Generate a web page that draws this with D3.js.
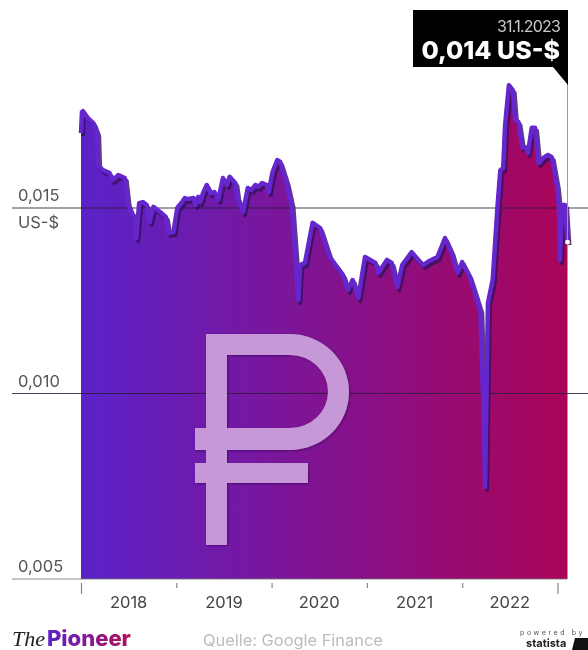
<!DOCTYPE html>
<html>
<head>
<meta charset="utf-8">
<script src="https://d3js.org/d3.v7.min.js"></script>
<style>
  body { margin: 0; background: #fff; }
  svg { display: block; filter: blur(0.5px); }
  text { font-family: Inter, "Open Sans", sans-serif; }
</style>
</head>
<body>
<div id="chart"></div>
<script>
// Kurs, x as decimal years
const years = [2018.00, 2018.01, 2018.02, 2018.07, 2018.13, 2018.17, 2018.18, 2018.23, 2018.30, 2018.33, 2018.36,
  2018.39, 2018.46, 2018.49, 2018.54, 2018.57, 2018.58, 2018.61, 2018.65, 2018.69, 2018.72,
  2018.76, 2018.83, 2018.89, 2018.92, 2018.97, 2019.01, 2019.06, 2019.09, 2019.12, 2019.18,
  2019.20, 2019.23, 2019.25, 2019.28, 2019.32, 2019.36, 2019.40, 2019.44, 2019.49, 2019.53,
  2019.56, 2019.62, 2019.64, 2019.70, 2019.75, 2019.79, 2019.83, 2019.86, 2019.90, 2019.95,
  2019.97, 2020.01, 2020.06, 2020.09, 2020.16, 2020.21, 2020.25, 2020.28, 2020.30, 2020.35,
  2020.43, 2020.51, 2020.61, 2020.75, 2020.80, 2020.85, 2020.91, 2020.98, 2021.05, 2021.09,
  2021.12, 2021.21, 2021.26, 2021.32, 2021.37, 2021.47, 2021.54, 2021.59, 2021.66, 2021.74,
  2021.82, 2021.89, 2021.95, 2022.00, 2022.08, 2022.13, 2022.19, 2022.22, 2022.24, 2022.27,
  2022.32, 2022.37, 2022.40, 2022.43, 2022.45, 2022.49, 2022.53, 2022.555, 2022.59, 2022.63,
  2022.66, 2022.69, 2022.73, 2022.765, 2022.80, 2022.85, 2022.90, 2022.94, 2022.995, 2023.015,
  2023.025, 2023.05, 2023.08, 2023.105];
const rates = [.01702, .01759, .01761, .01743, .01729, .01702, .01616, .01602, .01594, .01576, .01581,
  .01589, .01581, .01513, .01481, .01476, .01419, .01513, .01516, .01508, .01462,
  .01503, .01489, .01476, .01433, .01435, .01500, .01516, .01527, .01524, .01527,
  .01508, .01530, .01516, .01540, .01562, .01540, .01543, .01522, .01581, .01562,
  .01584, .01567, .01530, .01489, .01554, .01549, .01562, .01557, .01567, .01562,
  .01543, .01597, .01629, .01624, .01567, .01508, .01368, .01252, .01346, .01352,
  .01460, .01446, .01368, .01319, .01279, .01306, .01257, .01368, .01358, .01352,
  .01325, .01360, .01352, .01287, .01346, .01381, .01360, .01346, .01358, .01368,
  .01419, .01379, .01325, .01354, .01314, .01274, .01225, .00983, .00748, .01244,
  .01306, .01503, .01602, .01608, .01724, .01831, .01818, .01737, .01732, .01664,
  .01664, .01648, .01716, .01716, .01621, .01635, .01643, .01637, .01557, .01503,
  .01360, .01508, .01508, .01408];
const yTicks = [0.005, 0.010, 0.015];
const yearTicks = [2018, 2019, 2020, 2021, 2022, 2023];
const yearLabels = [2018, 2019, 2020, 2021, 2022];

const width = 588, height = 650;
const data = years.map((d, i) => ({ year: d, rate: rates[i] }));

const svg = d3.select("#chart").append("svg")
  .attr("width", width)
  .attr("height", height);

const xScale = d3.scaleLinear().domain([2018, 2023]).range([81, 557.5]);
const yScale = d3.scaleLinear().domain([0.005, 0.015]).range([579, 208]);
const fmt = (v) => v.toFixed(3).replace(".", ",");

const defs = svg.append("defs");
const grad = defs.append("linearGradient").attr("id", "areaGrad");
grad.append("stop").attr("offset", "0%").attr("stop-color", "#5a22c8");
grad.append("stop").attr("offset", "100%").attr("stop-color", "#aa0458");

const shadow = defs.append("filter").attr("id", "shadow")
  .attr("x", "-10%").attr("y", "-10%").attr("width", "120%").attr("height", "120%");
shadow.append("feDropShadow").attr("dx", 1).attr("dy", 1).attr("stdDeviation", 1.2)
  .attr("flood-color", "#300050").attr("flood-opacity", 0.6);

// area
const area = d3.area()
  .x((d) => xScale(d.year))
  .y0(yScale(0.005))
  .y1((d) => yScale(d.rate));

svg.append("path")
  .datum(data)
  .attr("d", area)
  .style("fill", "url(#areaGrad)");

// grid lines
svg.selectAll(".grid")
  .data(yTicks)
  .enter().append("line")
  .attr("class", "grid")
  .attr("x1", 12)
  .attr("x2", (d) => (d === 0.005 ? 567 : width))
  .attr("y1", (d) => yScale(d))
  .attr("y2", (d) => yScale(d))
  .style("stroke", (d) => (d === 0.005 ? "#777" : "#2e1a3a"))
  .style("stroke-opacity", 0.85)
  .style("stroke-width", 1);

// y labels
svg.selectAll(".ylabel")
  .data(yTicks)
  .enter().append("text")
  .attr("class", "ylabel")
  .attr("x", 18)
  .attr("y", (d) => yScale(d) - 7)
  .style("font-size", "16.5px")
  .style("fill", "#555")
  .text(fmt);

svg.append("text")
  .attr("x", 18)
  .attr("y", yScale(0.015) + 20)
  .style("font-size", "16.5px")
  .style("fill", "#555")
  .text("US-$");

// line with dark shadow
const line = d3.line()
  .x((d) => xScale(d.year))
  .y((d) => yScale(d.rate));

svg.append("path")
  .datum(data)
  .attr("d", line)
  .attr("transform", "translate(2,3)")
  .style("fill", "none")
  .style("stroke", "#35105a")
  .style("stroke-opacity", 0.8)
  .style("stroke-width", 4)
  .style("stroke-linejoin", "round");

svg.append("path")
  .datum(data)
  .attr("d", line)
  .style("fill", "none")
  .style("stroke", "#6527cd")
  .style("stroke-width", 4.5)
  .style("stroke-linejoin", "round");

// ruble sign
svg.append("path")
  .attr("d", "M206,334 H290 A59,58 0 0 1 290,450 H227 V463 H308 V483 H227 V545 H206 V483 H195 V463 H206 V450 H195 V428 H206 Z "
    + "M227,355 V428 H290 A38,36.5 0 0 0 290,355 Z")
  .attr("fill-rule", "evenodd")
  .attr("filter", "url(#shadow)")
  .style("fill", "#c698d8");

// x axis, first and last ticks are longer
const xAxis = svg.append("g")
  .attr("transform", "translate(0,583)")
  .call(d3.axisBottom(xScale).tickValues(yearTicks).tickFormat(""));
xAxis.select(".domain").remove();
xAxis.selectAll("line")
  .attr("y2", (d) => (d === 2018 || d === 2023 ? 11 : 5))
  .style("stroke", "#888")
  .style("stroke-width", 1.2);

svg.selectAll(".xlabel")
  .data(yearLabels)
  .enter().append("text")
  .attr("class", "xlabel")
  .attr("x", (d) => xScale(d + 0.5))
  .attr("y", 608)
  .attr("text-anchor", "middle")
  .style("font-size", "16.5px")
  .style("fill", "#444")
  .text((d) => d);

// callout
const last = data[data.length - 1];
svg.append("line")
  .attr("x1", xScale(last.year)).attr("x2", xScale(last.year))
  .attr("y1", 80).attr("y2", yScale(last.rate))
  .style("stroke", "#999")
  .style("stroke-width", 1);

svg.append("path")
  .attr("d", "M413,10 H568 V85 L553,67 H413 Z")
  .style("fill", "#000");

svg.append("circle")
  .attr("cx", xScale(last.year))
  .attr("cy", yScale(last.rate))
  .attr("r", 2.4)
  .style("fill", "#fff");

svg.append("text")
  .attr("x", 560).attr("y", 32)
  .attr("text-anchor", "end")
  .style("font-size", "16px")
  .style("letter-spacing", "-0.8px")
  .style("fill", "#c8c8c8")
  .text("31.1.2023");

svg.append("text")
  .attr("x", 560).attr("y", 59)
  .attr("text-anchor", "end")
  .style("font-size", "25px")
  .style("font-weight", 800)
  .style("fill", "#fff")
  .text("0,014 US-$");

// footer
const logoGrad = defs.append("linearGradient").attr("id", "logoGrad");
logoGrad.append("stop").attr("offset", "0%").attr("stop-color", "#5a22c8");
logoGrad.append("stop").attr("offset", "100%").attr("stop-color", "#b0105a");

svg.append("text")
  .attr("x", 12).attr("y", 646)
  .style("font-family", "'Liberation Serif', serif")
  .style("font-style", "italic")
  .style("font-size", "22px")
  .style("fill", "#222")
  .text("The");

svg.append("text")
  .attr("x", 47).attr("y", 646)
  .style("font-size", "22px")
  .style("font-weight", 800)
  .style("fill", "url(#logoGrad)")
  .text("Pioneer");

svg.append("text")
  .attr("x", 203).attr("y", 646)
  .style("font-size", "16.4px")
  .style("fill", "#bcbcbc")
  .text("Quelle: Google Finance");

svg.append("text")
  .attr("x", 520).attr("y", 635)
  .style("font-size", "7px")
  .style("letter-spacing", "2.6px")
  .style("fill", "#555")
  .text("powered by");

svg.append("text")
  .attr("x", 526).attr("y", 647)
  .style("font-size", "11px")
  .style("font-weight", 700)
  .style("fill", "#222")
  .text("statista");

svg.append("path")
  .attr("d", "M575,638 H588 V650 H572 Z")
  .style("fill", "#111");
</script>
</body>
</html>
